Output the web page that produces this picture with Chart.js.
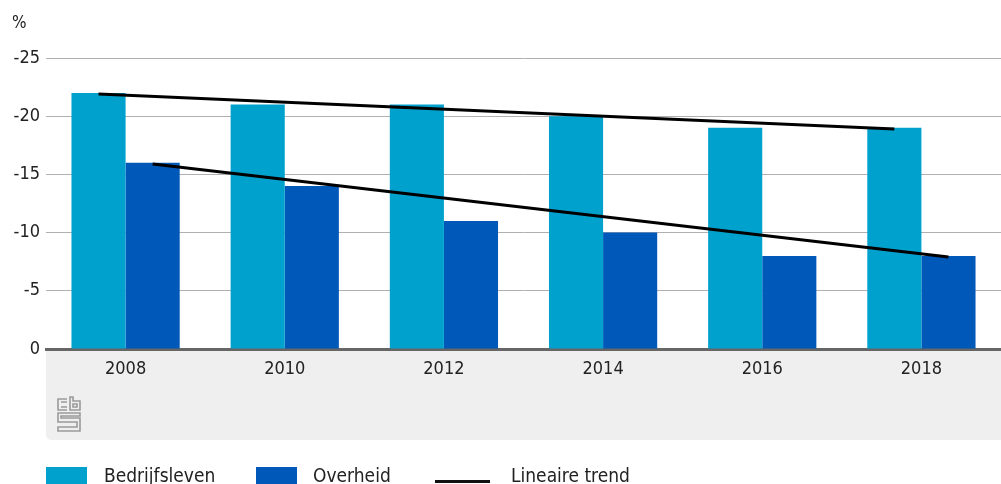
<!DOCTYPE html>
<html>
<head>
<meta charset="utf-8">
<script src="https://cdn.jsdelivr.net/npm/chart.js@4.4.1/dist/chart.umd.min.js"></script>
<style>
  html, body { margin: 0; padding: 0; background: #fff; }
  #wrap { position: relative; width: 1001px; height: 484px; overflow: hidden;
          font-family: "Liberation Sans Narrow", "DejaVu Sans Condensed", sans-serif; color: #222; }
  canvas { position: absolute; left: 0; top: 0; }
  .unit { position: absolute; left: 12px; top: 12px; font-size: 17px; }
  .legend { position: absolute; top: 464px; left: 0; height: 22px; font-size: 19px; }
  .legend span { position: absolute; white-space: nowrap; }
  .box { width: 41px; height: 18px; top: 3px; }
  .logo { position: absolute; left: 56px; top: 396px; }
</style>
</head>
<body>
<div id="wrap">
  <canvas id="chart" width="1001" height="484"></canvas>
  <div class="unit">%</div>
  <svg class="logo" width="26" height="36" viewBox="0 0 26 36" fill="none" stroke="#9a9a9a" stroke-width="1.6">
    <path d="M11 3 H2 V14 H11 M5 6 H11 M5 11 H11"/>
    <path d="M14 1 V14 H24 V5 H17 V1 Z M17 8 H21 V11 H17 Z"/>
    <path d="M24 17 H2 V26 H21 V31 H2 V35 H24 V22 H5 V20 H24 Z"/>
  </svg>
  <div class="legend">
    <span class="box" style="left:46px;background:#00a1cd"></span>
    <span style="left:104px">Bedrijfsleven</span>
    <span class="box" style="left:256px;background:#0058b8"></span>
    <span style="left:313px">Overheid</span>
    <span style="left:435px;top:16px;width:55px;height:3px;background:#111"></span>
    <span style="left:511px">Lineaire trend</span>
  </div>
</div>
<script>
const years = ["2008", "2010", "2012", "2014", "2016", "2018"];
const bedrijfsleven = [-22, -21, -21, -20, -19, -19];
const overheid = [-16, -14, -11, -10, -8, -8];
// trend end points (x in category units, at bar centres)
const trendBedrijf = [{ x: -0.17, y: -21.9 }, { x: 4.83, y: -18.9 }];
const trendOverheid = [{ x: 0.17, y: -15.9 }, { x: 5.17, y: -7.9 }];
const yTicks = [-25, -20, -15, -10, -5, 0];

const bandPlugin = {
  id: "band",
  beforeDraw(chart) {
    const { ctx, chartArea: a } = chart;
    ctx.save();
    ctx.fillStyle = "#efefef";
    ctx.beginPath();
    ctx.roundRect(a.left, a.bottom, chart.width - a.left, 440 - a.bottom, [0, 0, 0, 5]);
    ctx.fill();
    ctx.restore();
  }
};

// trend lines drawn through the category x scale (fractional index) and the y scale
const trendPlugin = {
  id: "trend",
  afterDatasetsDraw(chart) {
    const { ctx } = chart;
    const xs = chart.scales.x, ys = chart.scales.y;
    ctx.save();
    ctx.strokeStyle = "#000";
    ctx.lineWidth = 3;
    for (const t of [trendBedrijf, trendOverheid]) {
      ctx.beginPath();
      t.forEach((p, i) => {
        const px = xs.getPixelForValue(p.x), py = ys.getPixelForValue(p.y);
        i ? ctx.lineTo(px, py) : ctx.moveTo(px, py);
      });
      ctx.stroke();
    }
    ctx.restore();
  }
};

new Chart(document.getElementById("chart"), {
  type: "bar",
  data: {
    labels: years,
    datasets: [
      { data: bedrijfsleven, backgroundColor: "#00a1cd" },
      { data: overheid, backgroundColor: "#0058b8" }
    ]
  },
  options: {
    responsive: false,
    animation: false,
    layout: { padding: { top: 58, left: 0, right: 0, bottom: 0 } },
    barPercentage: 1,
    categoryPercentage: 0.68,
    plugins: { legend: { display: false }, tooltip: { enabled: false } },
    scales: {
      x: {
        grid: { display: false, drawTicks: false },
        border: { color: "#666", width: 3 },
        ticks: { color: "#222", padding: 10, font: { family: "Liberation Sans Narrow, DejaVu Sans Condensed", size: 18 } },
        afterFit(s) { s.height = 135; }
      },
      y: {
        reverse: true, min: -25, max: 0,
        afterBuildTicks(s) { s.ticks = yTicks.map(v => ({ value: v })); },
        grid: { color: "#b0b0b0", lineWidth: 1, drawTicks: false },
        border: { display: false },
        ticks: { color: "#222", padding: 6, font: { family: "Liberation Sans Narrow, DejaVu Sans Condensed", size: 18 } },
        afterFit(s) { s.width = 46; }
      }
    }
  },
  plugins: [bandPlugin, trendPlugin]
});
</script>
</body>
</html>
